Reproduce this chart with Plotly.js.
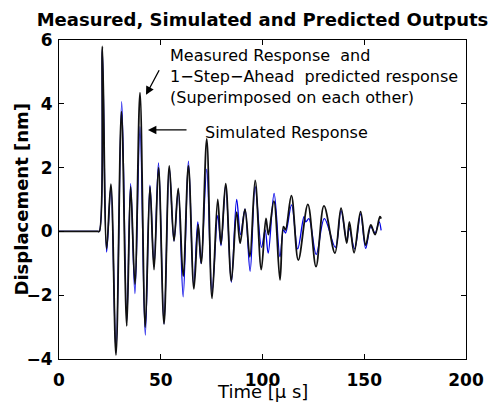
<!DOCTYPE html>
<html>
<head>
<meta charset="utf-8">
<script src="https://cdn.plot.ly/plotly-3.0.1.min.js"></script>
<style>html,body{margin:0;padding:0;background:#fff;}#chart{width:493px;height:404px;}</style>
</head>
<body>
<div id="chart"></div>
<script>
const measuredTime = [0, 19, 19.8, 21.3, 23.4, 25.5, 28.0, 30.7, 33.3, 35.2, 37.3, 39.8, 42.4, 44.7, 46.7, 48.9, 51.6, 54.2, 56.5, 58.6, 61.0, 63.6, 66.3, 68.4, 69.9, 72.6, 75.2, 78.0, 79.6, 81.9, 84.7, 87.3, 89.0, 91.4, 93.8, 96.4, 99.4, 101.7, 102.9, 105.6, 108.6, 110.3, 111.3, 114.2, 117.6, 122.3, 126.3, 130.2, 135.6, 138.6, 141.4, 142.7, 145.0, 148.2, 150.7, 153.2, 155.3, 157.7, 158.3];
const measuredDisp = [0, 0, 0, 5.8, -0.54, 1.48, -3.87, 3.75, -2.96, 1.4, -1.65, 4.35, -3.0, 1.4, -1.2, 2.0, -2.9, 2.05, -0.3, 1.35, -1.4, 2.05, -1.8, 0.2, -1.0, 2.9, -2.1, 1.0, -0.4, 1.5, -1.55, 0.6, -0.37, 0.7, -0.8, 1.6, -1.2, 0.41, -0.1, 0.95, -1.52, 0.15, 0.05, 1.12, -0.9, 0.85, -1.1, 0.8, -0.68, 0.73, -0.37, 0.3, -0.67, 0.62, -0.43, 0.2, -0.1, 0.46, 0.4];

// Simulated response
const simulatedTime = [0, 19, 19.8, 21.3, 23.4, 25.5, 28.0, 30.8, 33.3, 35.2, 37.3, 39.8, 42.4, 44.7, 46.7, 48.9, 51.6, 54.2, 56.5, 58.6, 61.0, 63.6, 66.2, 68.2, 69.8, 72.6, 75.2, 78.0, 79.6, 81.9, 84.7, 87.3, 89.2, 91.4, 93.9, 96.4, 99.5, 101.3, 102.8, 105.7, 108.6, 110.3, 111.3, 114.3, 117.3, 120.4, 121.3, 122.8, 126.4, 130.4, 135.8, 138.6, 141.4, 142.6, 145.3, 148.2, 150.7, 153.2, 155.3, 157.3, 158.3];
const simulatedDisp = [0, 0, 0, 5.7, -0.65, 1.4, -3.8, 4.07, -2.8, 1.5, -1.95, 3.28, -3.25, 1.45, -1.1, 2.15, -2.9, 2.0, -0.3, 1.3, -2.05, 2.2, -1.7, 0.3, -1.0, 1.95, -1.9, 0.5, -0.45, 1.45, -1.6, 1.0, -0.1, 0.7, -1.25, 1.4, -0.5, 0.05, -0.68, 1.19, -0.8, 0.05, -0.05, 0.83, -0.55, 0.46, 0.3, 0.4, -0.72, 0.4, -0.5, 0.65, -0.3, 0.1, -0.55, 0.55, -0.53, 0.15, -0.05, 0.3, 0.03];

const xTicks = [0, 50, 100, 150, 200];
const yTicks = [-4, -2, 0, 2, 4, 6];

const FONT = 'DejaVu Sans, Arial, sans-serif';

const traces = [
  {x: simulatedTime, y: simulatedDisp, type: 'scatter', mode: 'lines',
   line: {color: '#0000e6', width: 1.3, shape: 'spline'}, hoverinfo: 'skip', name: 'Simulated'},
  {x: measuredTime, y: measuredDisp, type: 'scatter', mode: 'lines',
   line: {color: '#111111', width: 1.8, shape: 'spline'}, hoverinfo: 'skip', name: 'Measured'}
];

const axisCommon = {
  showgrid: false, zeroline: false, showline: true, linecolor: '#000', linewidth: 1,
  mirror: 'ticks', ticks: 'inside', ticklen: 5, tickcolor: '#000', tickwidth: 1,
  tickfont: {family: FONT, size: 17, color: '#000', weight: 'bold'}
};

const layout = {
  width: 493, height: 404,
  margin: {l: 59, r: 27, t: 40, b: 45},
  paper_bgcolor: '#fff', plot_bgcolor: '#fff',
  showlegend: false,
  title: {text: 'Measured, Simulated and Predicted Outputs',
          font: {family: FONT, size: 18, color: '#000', weight: 'bold'},
          x: 0.5, xref: 'paper', xanchor: 'center',
          y: 1 - 20 / 404, yref: 'container', yanchor: 'middle'},
  xaxis: Object.assign({}, axisCommon, {range: [0, 200], tickvals: xTicks, ticktext: xTicks.map(String), ticklabelstandoff: 6}),
  yaxis: Object.assign({}, axisCommon, {range: [-4, 6], tickvals: yTicks, ticklabelstandoff: 2}),
  annotations: [
    {text: 'Time [\u00b5 s]', xref: 'paper', yref: 'paper', x: 0.5, y: 0, xanchor: 'center', yanchor: 'middle',
     yshift: -32, showarrow: false, font: {family: FONT, size: 18, color: '#000'}},
    {text: 'Displacement [nm]', xref: 'paper', yref: 'paper', x: 0, y: 0.5, xanchor: 'center', yanchor: 'middle',
     xshift: -38, textangle: -90, showarrow: false, font: {family: FONT, size: 18, color: '#000', weight: 'bold'}},
    {text: 'Measured Response\u00a0 and<br>1\u2212Step\u2212Ahead\u00a0 predicted response<br>(Superimposed on each other)',
     xref: 'x', yref: 'y', x: 53.6, y: 4.87, xanchor: 'left', yanchor: 'middle', align: 'left',
     showarrow: false, font: {family: FONT, size: 16, color: '#000'}},
    {text: 'Simulated Response', xref: 'x', yref: 'y', x: 70.8, y: 3.1, xanchor: 'left', yanchor: 'middle',
     showarrow: false, font: {family: FONT, size: 16, color: '#000'}},
    {text: '', xref: 'x', yref: 'y', x: 42.75, y: 4.28, axref: 'x', ayref: 'y', ax: 49.6, ay: 5.1,
     showarrow: true, arrowhead: 2, arrowsize: 1.3, arrowwidth: 1.3, arrowcolor: '#000'},
    {text: '', xref: 'x', yref: 'y', x: 43.7, y: 3.18, axref: 'x', ayref: 'y', ax: 63.4, ay: 3.18,
     showarrow: true, arrowhead: 2, arrowsize: 1.3, arrowwidth: 1.3, arrowcolor: '#000'}
  ]
};

Plotly.newPlot('chart', traces, layout, {staticPlot: true, displayModeBar: false});
</script>
</body>
</html>
